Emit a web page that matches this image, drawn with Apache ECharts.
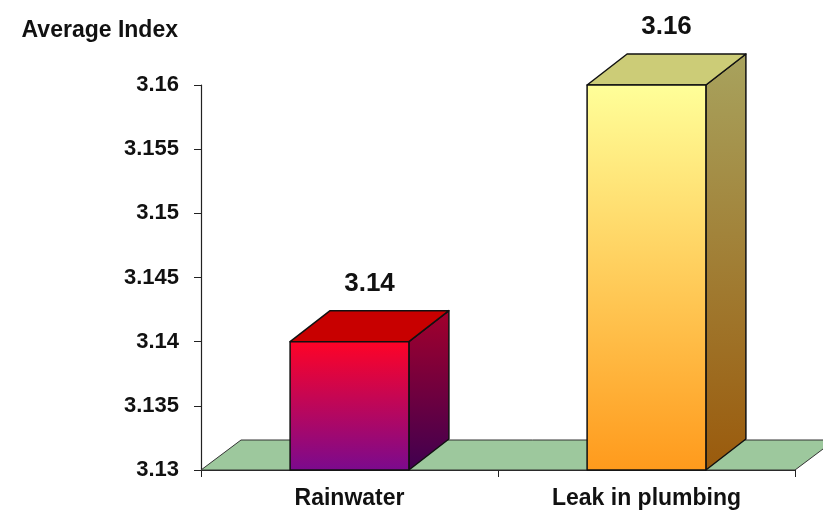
<!DOCTYPE html>
<html>
<head>
<meta charset="utf-8">
<script src="https://cdn.jsdelivr.net/npm/echarts@6/dist/echarts.min.js"></script>
<style>
  html, body { margin: 0; padding: 0; background: #fff; }
  #chart { width: 823px; height: 514px; }
</style>
</head>
<body>
<div id="chart"></div>
<script>
var categories = ['Rainwater', 'Leak in plumbing'];
var values = [3.14, 3.16];
var yMin = 3.13, yMax = 3.16, yStep = 0.005;

// depth offset of the fake 3D boxes
var DX = 40, DY = -31;

var faceColors = [
    {
        front: ['#ff0326', '#7a0a8e'],
        side: ['#a3002c', '#3f0050'],
        top: '#c80000'
    },
    {
        front: ['#ffff99', '#ff9a1c'],
        side: ['#a8a35e', '#9a5a0c'],
        top: '#cccc77'
    }
];

function grad(c) {
    return new echarts.graphic.LinearGradient(0, 0, 0, 1, [
        {offset: 0, color: c[0]}, {offset: 1, color: c[1]}
    ]);
}

function renderFloor(params, api) {
    var cs = params.coordSys;
    var x = cs.x, y = cs.y + cs.height, w = cs.width;
    return {
        type: 'polygon',
        shape: {points: [[x, y], [x + DX, y + DY + 1], [x + w + DX, y + DY + 1], [x + w, y]]},
        style: {fill: '#9dc89d', stroke: '#333', lineWidth: 1}
    };
}

function renderBox(params, api) {
    var i = api.value(0);
    var v = api.value(1);
    var top = api.coord([i, v]);
    var base = api.coord([i, yMin]);
    var bw = api.size([1, 0])[0] * 0.4;
    var x0 = top[0] - bw / 2, x1 = top[0] + bw / 2;
    var yt = top[1], yb = base[1];
    var c = faceColors[i];
    var line = {stroke: '#111', lineWidth: 1.5, lineJoin: 'round'};
    return {
        type: 'group',
        children: [
            {
                type: 'polygon',
                shape: {points: [[x1, yt], [x1 + DX, yt + DY], [x1 + DX, yb + DY], [x1, yb]]},
                style: Object.assign({fill: grad(c.side)}, line)
            },
            {
                type: 'polygon',
                shape: {points: [[x0, yt], [x0 + DX, yt + DY], [x1 + DX, yt + DY], [x1, yt]]},
                style: Object.assign({fill: c.top}, line)
            },
            {
                type: 'rect',
                shape: {x: x0, y: yt, width: bw, height: yb - yt},
                style: Object.assign({fill: grad(c.front)}, line)
            },
            {
                type: 'text',
                style: {
                    text: v.toFixed(2),
                    x: top[0] + DX / 2,
                    y: yt + DY - 27,
                    align: 'center',
                    verticalAlign: 'middle',
                    font: 'bold 26px "Liberation Sans", Arial, sans-serif',
                    fill: '#111'
                }
            }
        ]
    };
}

var boxData = values.map(function (v, i) { return [i, v]; });

var option = {
    animation: false,
    grid: {left: 201, right: 28, top: 85, bottom: 44},
    xAxis: {
        type: 'category',
        data: categories,
        axisLine: {lineStyle: {color: '#222', width: 1.2}},
        axisTick: {show: true, length: 7, lineStyle: {color: '#222'}},
        axisLabel: {
            color: '#111',
            fontFamily: 'Liberation Sans',
            fontWeight: 'bold',
            fontSize: 23,
            margin: 17
        }
    },
    yAxis: {
        type: 'value',
        min: yMin,
        max: yMax,
        interval: yStep,
        name: 'Average Index',
        nameLocation: 'end',
        nameGap: 54,
        nameTextStyle: {
            color: '#111',
            fontFamily: 'Liberation Sans',
            fontWeight: 'bold',
            fontSize: 23,
            align: 'right',
            verticalAlign: 'middle',
            padding: [0, 23, 0, 0]
        },
        axisLine: {show: true, lineStyle: {color: '#222', width: 1.2}},
        axisTick: {show: true, length: 7, lineStyle: {color: '#222'}},
        splitLine: {show: false},
        axisLabel: {
            color: '#111',
            fontFamily: 'Liberation Sans',
            fontWeight: 'bold',
            fontSize: 22,
            margin: 22,
            formatter: function (v) { return String(+v.toFixed(3)); }
        }
    },
    series: [
        {
            type: 'custom',
            renderItem: renderFloor,
            data: [[0, yMin]],
            clip: false,
            z: 1,
            silent: true
        },
        {
            type: 'custom',
            renderItem: renderBox,
            data: boxData,
            encode: {x: 0, y: 1},
            clip: false,
            z: 2
        }
    ]
};

var chart = echarts.init(document.getElementById('chart'));
chart.setOption(option);
</script>
</body>
</html>
